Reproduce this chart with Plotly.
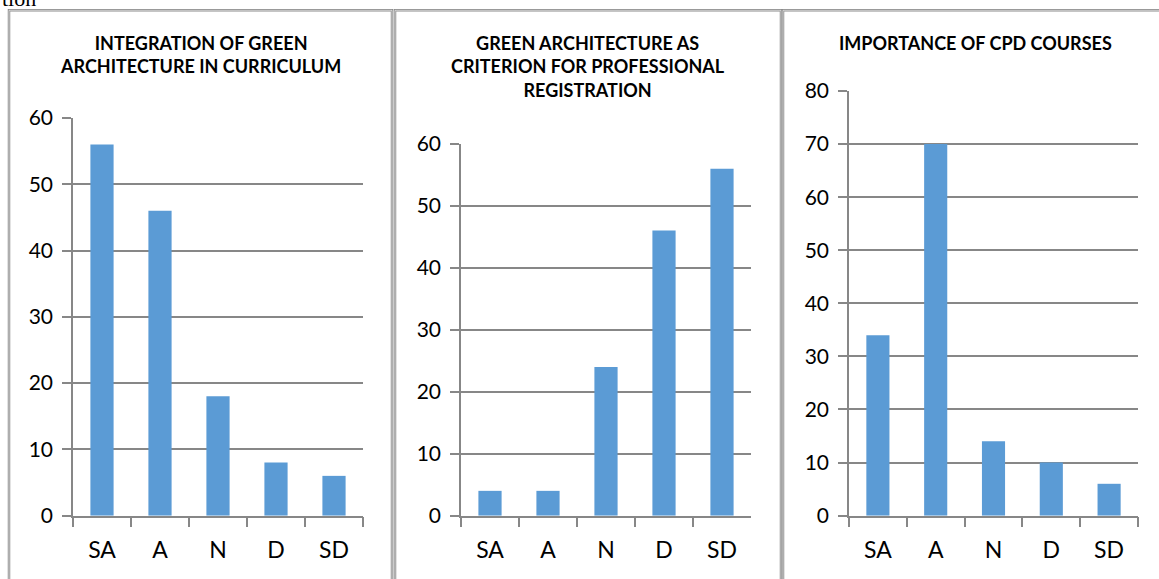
import plotly.graph_objects as go

categories = ["SA", "A", "N", "D", "SD"]
integration_vals = [56, 46, 18, 8, 6]
registration_vals = [4, 4, 24, 46, 56]
cpd_vals = [34, 70, 14, 10, 6]

titles = [
    "INTEGRATION OF GREEN<br>ARCHITECTURE IN CURRICULUM",
    "GREEN ARCHITECTURE AS<br>CRITERION FOR PROFESSIONAL<br>REGISTRATION",
    "IMPORTANCE OF CPD COURSES",
]
y_max = [60, 60, 80]

W, H = 1159, 579
BAR = "#5B9BD5"
GRID = "#878787"
FONT = "Lato, 'Open Sans', sans-serif"


def py(y):
    """target pixel row -> paper fraction (compensates the renderer's vertical mapping)"""
    yi = (y - 12.7) / 0.96
    return 1 - yi / H


# pixel layout (left, right, top, bottom)
plots = [(73, 363, 117, 516), (461, 751, 143, 516), (849, 1138, 90, 516)]
frames = [(9, 392), (395, 781), (783, 1165)]
title_centers = [200, 588, 975]

fig = go.Figure()
series = [integration_vals, registration_vals, cpd_vals]
for i, vals in enumerate(series):
    ax = "" if i == 0 else str(i + 1)
    fig.add_trace(go.Bar(x=categories, y=vals, marker_color=BAR, marker_line_width=0,
                         xaxis="x" + ax, yaxis="y" + ax, showlegend=False))
    l, r, t, b = plots[i]
    fig.layout["xaxis" + ax] = dict(
        domain=[l / W, r / W], anchor="y" + ax, type="category",
        tickson="boundaries", ticks="outside", ticklen=10, tickcolor=GRID, tickwidth=1.5,
        showline=True, linecolor=GRID, linewidth=1.5, showgrid=False,
        tickfont=dict(family=FONT, size=23, color="#000"), ticklabelstandoff=13,
    )
    fig.layout["yaxis" + ax] = dict(
        domain=[py(b), py(t)], anchor="x" + ax, range=[0, y_max[i]],
        dtick=10, ticks="outside", ticklen=9, tickcolor=GRID, tickwidth=1.5,
        showline=True, linecolor=GRID, linewidth=1.5,
        showgrid=True, gridcolor=GRID, gridwidth=1.5, zeroline=False,
        tickfont=dict(family=FONT, size=21, color="#000"), ticklabelstandoff=5,
    )
    fl, fr = frames[i]
    fig.add_shape(type="rect", xref="paper", yref="paper",
                  x0=fl / W, x1=fr / W, y0=-0.1, y1=py(9),
                  line=dict(color="#8c8c8c", width=2.5), layer="below")
    fig.add_shape(type="rect", xref="paper", yref="paper",
                  x0=fl / W, x1=fr / W, y0=-0.1, y1=py(9),
                  line=dict(color="#ffffff", width=0.6), layer="below")
    fig.add_annotation(text="<b>" + titles[i] + "</b>", xref="paper", yref="paper",
                       x=title_centers[i] / W, y=py(29), xanchor="center", yanchor="top",
                       showarrow=False, align="center",
                       font=dict(family=FONT, size=18, color="#000"))

fig.add_annotation(text="tion", xref="paper", yref="paper", x=0, y=1, xanchor="left",
                   yanchor="bottom", yshift=1, showarrow=False,
                   font=dict(family="Liberation Serif, serif", size=22, color="#000"))

fig.update_layout(width=W, height=H, margin=dict(l=0, r=0, t=0, b=0),
                  paper_bgcolor="white", plot_bgcolor="white", bargap=0.6)
fig.write_html("out.html", config={"responsive": False, "displayModeBar": False})
